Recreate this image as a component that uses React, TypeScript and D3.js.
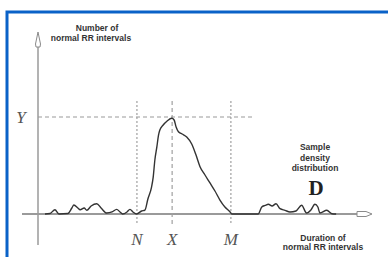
import React, { useEffect, useRef } from 'react';
import * as d3 from 'd3';

// duration of normal RR intervals (arbitrary units) vs number of intervals
const rrDuration = [
  2.1, 3.6, 5.1, 6.3, 9.0, 10.2, 10.8, 12.0, 12.7, 13.9, 14.7, 16.0, 17.7, 19.0, 20.7, 22.3,
  23.7, 24.7, 25.5, 26.8, 27.7, 28.6, 29.7, 31.2, 32.2, 33.1, 34.2, 34.7, 35.2, 35.8, 36.3,
  36.7, 37.7, 38.9, 40.3, 41.0, 41.6, 42.3, 43.4, 44.8, 46.3, 47.6, 48.8, 50.3, 51.8, 53.3,
  54.8, 56.3, 57.8, 58.4, 66.3, 67.4, 68.4, 69.4, 70.5, 71.7, 72.9, 74.4, 75.9, 77.7, 79.4,
  80.9, 82.2, 83.4, 84.3, 84.9, 87.0, 88.5, 89.8,
];
const rrCount = [
  0, 0.5, 4.4, 0, 0.5, 6.2, 9.3, 6.2, 4.4, 6.2, 3.8, 8.2, 10.6, 6.2, 1.0, 2.1,
  4.8, 2.1, 0, 2.1, 4.8, 2.1, 0, 3.1, 4.1, 15.5, 27.8, 38.1, 55.7, 69.1, 81.4,
  86.6, 91.8, 95.9, 98.7, 96.9, 89.7, 84.8, 82.5, 79.4, 72.2, 60.8, 48.8, 40.2, 32.0, 23.7,
  14.4, 7.2, 2.4, 0, 0, 7.2, 8.8, 10.0, 8.2, 10.6, 5.5, 3.8, 2.1, 3.1, 9.0,
  1.0, 4.1, 10.0, 7.2, 1.0, 3.8, 0.3, 0,
];
const markerNames = ['N', 'X', 'M'];
const markerValues = [29.8, 40.4, 58.1];
const levelName = 'Y';
const levelValue = 100;

const W = 388;
const H = 257;

export default function App() {
  const svgRef = useRef<SVGSVGElement>(null);

  useEffect(() => {
    document.body.style.margin = '0';
    const svg = d3.select(svgRef.current!);
    svg.selectAll('*').remove();

    const x = d3.scaleLinear().domain([0, 100]).range([38, 370]);
    const y = d3.scaleLinear().domain([0, 100]).range([214, 117]);

    svg.append('rect').attr('width', W).attr('height', H).attr('fill', '#fff');

    // blue frame (only top and left are visible)
    svg.append('path')
      .attr('d', `M7,${H} V12 H${W}`)
      .attr('fill', 'none')
      .attr('stroke', '#0a62c8')
      .attr('stroke-width', 3);

    const axisColor = '#8a8a8a';

    // y axis
    svg.append('line')
      .attr('x1', x(0)).attr('x2', x(0))
      .attr('y1', 46).attr('y2', 245)
      .attr('stroke', axisColor).attr('stroke-width', 1.3);
    svg.append('path')
      .attr('d', `M${x(0)},32 L${x(0) + 2.5},44 L${x(0) + 2},47 L${x(0) - 2},47 L${x(0) - 2.5},44 Z`)
      .attr('fill', '#fff').attr('stroke', axisColor).attr('stroke-width', 1);

    // x axis
    svg.append('line')
      .attr('x1', 22).attr('x2', 357)
      .attr('y1', y(0)).attr('y2', y(0))
      .attr('stroke', '#9a9a9a').attr('stroke-width', 2);
    svg.append('path')
      .attr('d', `M357,${y(0) - 2.5} L366,${y(0) - 2.5} L372,${y(0)} L366,${y(0) + 2.5} L357,${y(0) + 2.5} Z`)
      .attr('fill', '#fff').attr('stroke', axisColor).attr('stroke-width', 1);

    // level line
    svg.append('line')
      .attr('x1', x(0)).attr('x2', 252)
      .attr('y1', y(levelValue)).attr('y2', y(levelValue))
      .attr('stroke', '#999').attr('stroke-width', 1.2)
      .attr('stroke-dasharray', '4,3');
    svg.append('text')
      .attr('x', 21).attr('y', y(levelValue) + 6)
      .attr('text-anchor', 'middle')
      .attr('font-family', 'Liberation Serif, serif')
      .attr('font-style', 'italic')
      .attr('font-size', 17)
      .attr('fill', '#555')
      .text(levelName);

    // vertical markers
    markerValues.forEach((v, i) => {
      svg.append('line')
        .attr('x1', x(v)).attr('x2', x(v))
        .attr('y1', 101).attr('y2', 224)
        .attr('stroke', '#a0a0a0').attr('stroke-width', 1.2)
        .attr('stroke-dasharray', i === 1 ? '4,3' : '2,2');
      svg.append('text')
        .attr('x', x(v)).attr('y', 245)
        .attr('text-anchor', 'middle')
        .attr('font-family', 'Liberation Serif, serif')
        .attr('font-style', 'italic')
        .attr('font-size', 17)
        .attr('fill', '#555')
        .text(markerNames[i]);
    });

    // density curve
    const pts: [number, number][] = rrDuration.map((d, i) => [d, rrCount[i]]);
    const line = d3.line<[number, number]>()
      .x(d => x(d[0]))
      .y(d => y(d[1]))
      .curve(d3.curveMonotoneX);
    svg.append('path')
      .datum(pts)
      .attr('d', line)
      .attr('fill', 'none')
      .attr('stroke', '#333')
      .attr('stroke-width', 1.4);

    const small = (tx: number, ty: number, s: string) =>
      svg.append('text')
        .attr('x', tx).attr('y', ty)
        .attr('text-anchor', 'middle')
        .attr('font-family', 'Liberation Sans, Arial, sans-serif')
        .attr('font-weight', 'bold')
        .attr('font-size', 8.5)
        .attr('fill', '#333')
        .text(s);

    small(97, 31, 'Number of');
    small(91, 41, 'normal RR intervals');
    small(315, 150, 'Sample');
    small(315, 161, 'density');
    small(315, 171, 'distribution');
    small(323, 241, 'Duration of');
    small(323, 250, 'normal RR intervals');

    svg.append('text')
      .attr('x', 316).attr('y', 195)
      .attr('text-anchor', 'middle')
      .attr('font-family', 'Liberation Serif, serif')
      .attr('font-weight', 'bold')
      .attr('font-size', 21)
      .attr('fill', '#222')
      .text('D');
  }, []);

  return (
    <div style={{ position: 'absolute', left: 0, top: 0 }}>
      <svg ref={svgRef} width={W} height={H} style={{ display: 'block' }} />
    </div>
  );
}
